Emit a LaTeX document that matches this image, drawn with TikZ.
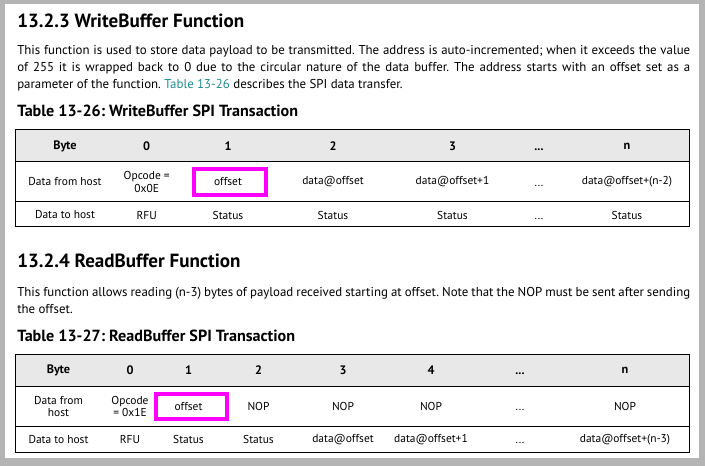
\documentclass[tikz,border=0pt]{standalone}
\usepackage{fontspec}
\setmainfont{PT Sans}
\usetikzlibrary{positioning,calc}
\definecolor{pagegray}{RGB}{180,180,180}
\definecolor{hdrgray}{RGB}{232,232,232}
\definecolor{linkteal}{RGB}{32,140,140}
\definecolor{hilitemag}{RGB}{255,0,255}
\newcommand{\tdots}{\vphantom{0}...}
\frenchspacing
\begin{document}
\begin{tikzpicture}[x=0.75pt,y=-0.75pt,
   sect/.style={anchor=base west,inner sep=0pt,font=\fontsize{14.3}{16}\selectfont\bfseries},
   capt/.style={anchor=base west,inner sep=0pt,font=\fontsize{12.1}{14}\selectfont\bfseries},
   body/.style={anchor=base west,inner sep=0pt,font=\fontsize{9.65}{12}\selectfont},
   cell/.style={align=center,inner sep=0pt,font=\fontsize{8.6}{9.6}\selectfont},
   hcell/.style={cell,font=\fontsize{9.2}{10}\selectfont\bfseries},
   tabrule/.style={line width=0.75pt},
   hilite/.style={draw=hilitemag,line width=3pt}]
 \fill[pagegray] (0,0) rectangle (705,466);
 \fill[white] (5,4) rectangle (699,458);
 \useasboundingbox (0,0) rectangle (705,466);
 % WriteBuffer
 \node[sect] (h1) at (17,27.7) {13.2.3 WriteBuffer Function};
 \node[body] (p1a) at (17,54.3) {\makebox[504.75pt][s]{This function is used to store data payload to be transmitted. The address is auto-incremented; when it exceeds the value}};
 \node[body] (p1b) at (17,71.5) {\makebox[504.75pt][s]{of 255 it is wrapped back to 0 due to the circular nature of the data buffer. The address starts with an offset set as a}};
 \node[body] (p1c) at (17,89) {parameter of the function. {\color{linkteal}Table 13-26} describes the SPI data transfer.};
 \node[capt] (c1) at (17,116.7) {Table 13-26: WriteBuffer SPI Transaction};
 \fill[hdrgray] (15,130) rectangle (689,162);
 \draw[tabrule] (15,130) rectangle (689,227) (15,162) -- (689,162) (15,202) -- (689,202);
 \foreach \X/\T [count=\i] in {65/Byte,146.7/0,228/1,333/2,452.5/3,539/\tdots,627/n}
  \node[hcell] (a-1-\i) at (\X,146) {\T};
 \foreach \X/\T [count=\i] in {65/Data from host,146.7/{Opcode =\\0x0E},228/offset,333/data@offset,
   452.5/data@offset+1,539/\tdots,627/data@offset+(n-2)}
  \node[cell] (a-2-\i) at (\X,182) {\T};
 \foreach \X/\T [count=\i] in {65/Data to host,146.7/RFU,228/Status,333/Status,452.5/Status,539/\tdots,627/Status}
  \node[cell] (a-3-\i) at (\X,215) {\T};
 \draw[hilite] (194,169) rectangle (265.5,195.5);
 % ReadBuffer
 \node[sect] (h2) at (17,267.3) {13.2.4 ReadBuffer Function};
 \node[body] (p2a) at (17,296.7) {\makebox[504.75pt][s]{This function allows reading (n-3) bytes of payload received starting at offset. Note that the NOP must be sent after sending}};
 \node[body] (p2b) at (17,313) {the offset.};
 \node[capt] (c2) at (17,341.7) {Table 13-27: ReadBuffer SPI Transaction};
 \fill[hdrgray] (15,354.5) rectangle (689,386);
 \draw[tabrule] (15,354.5) rectangle (689,452) (15,386) -- (689,386) (15,426) -- (689,426);
 \foreach \X/\T [count=\i] in {58.5/Byte,130/0,188.5/1,258.5/2,343/3,431/4,520/\tdots,625/n}
  \node[hcell] (b-1-\i) at (\X,370.5) {\T};
 \foreach \X/\T [count=\i] in {58.5/{Data from\\host},130/{Opcode\\= 0x1E},188.5/offset,258.5/NOP,
   343/NOP,431/NOP,520/\tdots,625/NOP}
  \node[cell] (b-2-\i) at (\X,406.5) {\T};
 \foreach \X/\T [count=\i] in {58.5/Data to host,130/RFU,188.5/Status,258.5/Status,343/data@offset,
   431/data@offset+1,520/\tdots,625/data@offset+(n-3)}
  \node[cell] (b-3-\i) at (\X,439.3) {\T};
 \draw[hilite] (156.3,393.7) rectangle (227.3,419);
\end{tikzpicture}
\end{document}
